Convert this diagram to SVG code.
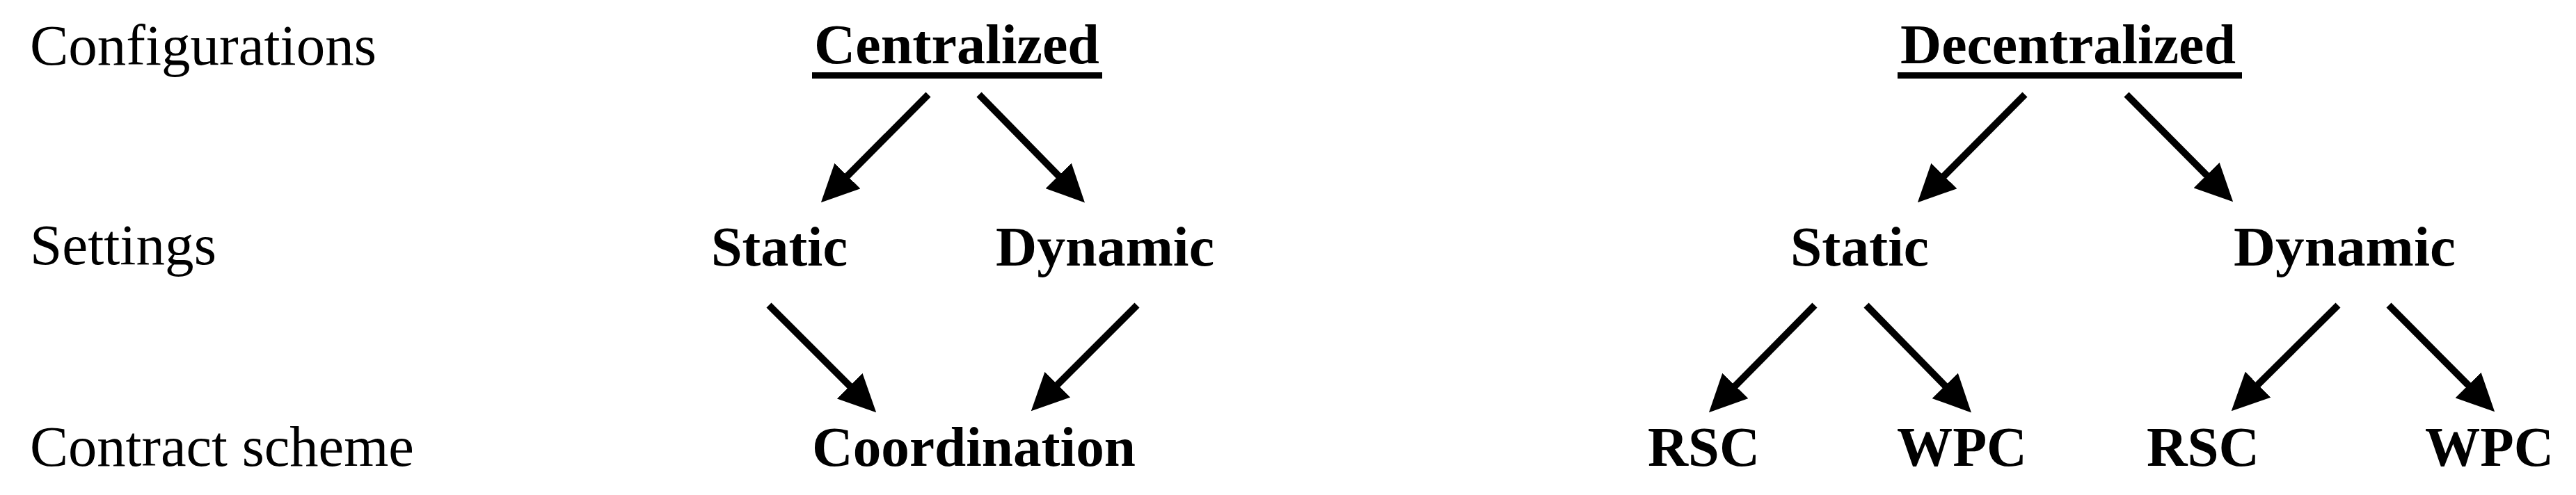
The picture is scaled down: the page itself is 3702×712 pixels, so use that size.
<svg xmlns="http://www.w3.org/2000/svg" width="3702" height="712" viewBox="0 0 3702 712">
<style>
text{font-family:"Liberation Serif","Times New Roman",serif;fill:#000}
.lbl{font-size:82px}
.node{font-size:81px;font-weight:bold}
.conn line{stroke:#000;stroke-width:10;marker-end:url(#ah)}
</style>
<defs>
<marker id="ah" markerUnits="userSpaceOnUse" viewBox="0 0 54 52" markerWidth="54" markerHeight="52" refX="24" refY="26" orient="auto">
<path d="M0,0 L54,26 L0,52 z" fill="#000"/>
</marker>
</defs>
<rect width="3702" height="712" fill="#fff"/>
<g id="row-labels">
<text class="lbl" x="43" y="93" textLength="498" lengthAdjust="spacingAndGlyphs">Configurations</text>
<text class="lbl" x="43" y="380" textLength="268" lengthAdjust="spacingAndGlyphs">Settings</text>
<text class="lbl" x="43" y="670" textLength="552" lengthAdjust="spacingAndGlyphs">Contract scheme</text>
</g>
<g id="centralized">
<text class="node" x="1170" y="91" textLength="410" lengthAdjust="spacingAndGlyphs">Centralized</text>
<rect x="1167" y="104" width="417" height="9" fill="#000"/>
</g>
<g id="c-static"><text class="node" x="1022" y="382" textLength="196" lengthAdjust="spacingAndGlyphs">Static</text></g>
<g id="c-dynamic"><text class="node" x="1431" y="382" textLength="314" lengthAdjust="spacingAndGlyphs">Dynamic</text></g>
<g id="c-coordination"><text class="node" x="1167" y="670" textLength="465" lengthAdjust="spacingAndGlyphs">Coordination</text></g>
<g id="decentralized">
<text class="node" x="2731" y="91" textLength="482" lengthAdjust="spacingAndGlyphs">Decentralized</text>
<rect x="2727" y="104" width="495" height="9" fill="#000"/>
</g>
<g id="d-static"><text class="node" x="2573" y="382" textLength="199" lengthAdjust="spacingAndGlyphs">Static</text></g>
<g id="d-dynamic"><text class="node" x="3210" y="382" textLength="319" lengthAdjust="spacingAndGlyphs">Dynamic</text></g>
<g id="d-rsc1"><text class="node" x="2368" y="670" textLength="161" lengthAdjust="spacingAndGlyphs">RSC</text></g>
<g id="d-wpc1"><text class="node" x="2726" y="670" textLength="187" lengthAdjust="spacingAndGlyphs">WPC</text></g>
<g id="d-rsc2"><text class="node" x="3085" y="670" textLength="162" lengthAdjust="spacingAndGlyphs">RSC</text></g>
<g id="d-wpc2"><text class="node" x="3485" y="670" textLength="185" lengthAdjust="spacingAndGlyphs">WPC</text></g>
<g id="connectors" class="conn">
<line x1="1334" y1="136" x2="1201" y2="270"/>
<line x1="1407" y1="136" x2="1538" y2="270"/>
<line x1="1105" y1="439" x2="1238" y2="572"/>
<line x1="1634" y1="439" x2="1503" y2="570"/>
<line x1="2910" y1="136" x2="2777" y2="270"/>
<line x1="3056" y1="136" x2="3188" y2="269"/>
<line x1="2608" y1="439" x2="2477" y2="572"/>
<line x1="2682" y1="439" x2="2812" y2="572"/>
<line x1="3360" y1="439" x2="3228" y2="570"/>
<line x1="3433" y1="439" x2="3564" y2="571"/>
</g>
</svg>
